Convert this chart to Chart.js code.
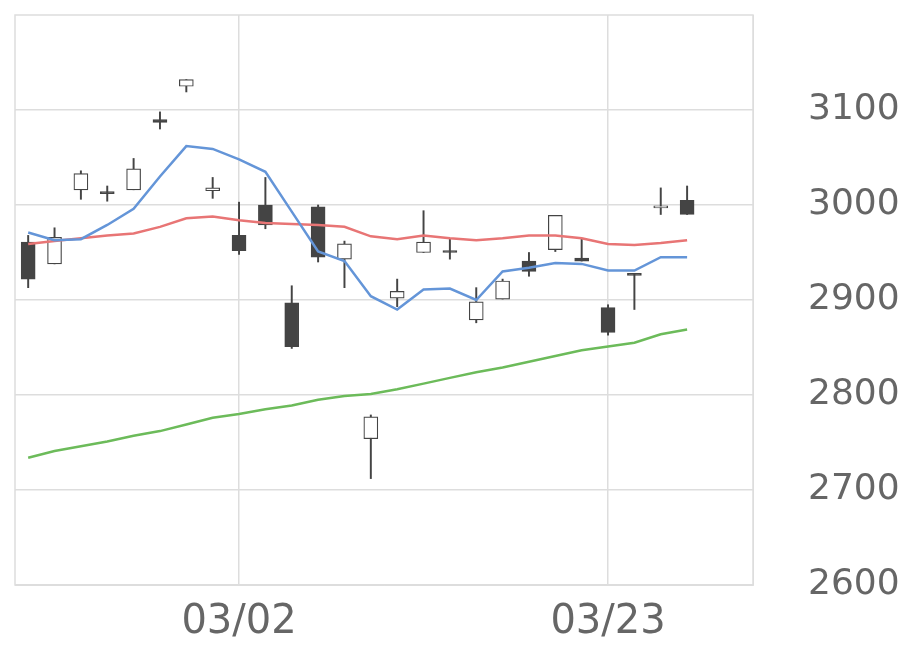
<!DOCTYPE html>
<html><head><meta charset="utf-8">
<script src="https://cdn.jsdelivr.net/npm/chart.js@4/dist/chart.umd.min.js"></script>
<style>body{margin:0;background:#fff}</style></head>
<body><canvas id="c" width="920" height="669"></canvas>
<script>
const dateLabels = ["","","","","","","","","03/02","","","","","","","","","","","","","","03/23","","","","",""];
const yTicks = [2600, 2700, 2800, 2900, 3000, 3100];
const opens  = [2961,2938,3016,3014,3016,3090,3125,3015,2968,3000,2897,2998,2943,2754,2902,2950,2952,2879,2901,2941,2953,2944,2892,2928,2997,3005];
const closes = [2922,2966,3033,3012,3038,3087,3132,3018,2952,2979,2851,2945,2959,2777,2909,2961,2950,2898,2920,2930,2989,2941,2866,2926,2999,2990];
const highs  = [2968,2976,3036,3020,3049,3098,3132,3029,3003,3029,2915,3000,2962,2779,2922,2994,2964,2913,2922,2950,2989,2964,2895,2928,3018,3020];
const lows   = [2913,2938,3006,3004,3016,3080,3119,3007,2948,2975,2849,2940,2913,2712,2893,2950,2943,2876,2901,2925,2951,2941,2863,2890,2990,2990];
const maShort = [2971,2963,2964,2979,2996,3030,3062,3059,3048,3035,2993,2951,2941,2904,2890,2911,2912,2900,2930,2934,2939,2938,2931,2931,2945,2945];
const maMid   = [2959,2962,2965,2968,2970,2977,2986,2988,2984,2981,2980,2979,2977,2967,2964,2968,2965,2963,2965,2968,2968,2965,2959,2958,2960,2963];
const maLong  = [2734,2741,2746,2751,2757,2762,2769,2776,2780,2785,2789,2795,2799,2801,2806,2812,2818,2824,2829,2835,2841,2847,2851,2855,2864,2869];

const dark = "#444";
const up = opens.map((o, i) => closes[i] >= o);
const line = (d, color) => ({type: "line", data: d, borderColor: color,
  borderWidth: 2.5, pointRadius: 0, fill: false, tension: 0});

const frame = {id: "frame", afterDraw(ch) {
  const a = ch.chartArea, c = ch.ctx;
  c.save(); c.strokeStyle = "#ddd"; c.lineWidth = 1.5;
  c.strokeRect(a.left, a.top, a.right - a.left, a.bottom - a.top); c.restore();
}};

new Chart(document.getElementById("c"), {
  data: {labels: dateLabels, datasets: [
    line(maShort, "#6495d8"), line(maMid, "#e87575"), line(maLong, "#6cbb5a"),
    {type: "bar", data: lows.map((l, i) => [l, highs[i]]), backgroundColor: dark,
     barThickness: 1.3, grouped: false, order: 5},
    {type: "bar", data: opens.map((o, i) => [o, closes[i]]),
     backgroundColor: up.map(u => u ? "#fff" : dark), borderColor: dark, borderWidth: 1.2,
     borderSkipped: false, barThickness: 14, grouped: false, order: 4}
  ]},
  options: {
    responsive: false, animation: false,
    layout: {padding: {left: 15, top: 15, right: 0, bottom: 8}},
    plugins: {legend: {display: false}, tooltip: {enabled: false}},
    scales: {
      x: {type: "category", offset: true,
        ticks: {autoSkip: false, color: "#666", font: {size: 40, family: "DejaVu Sans"}, maxRotation: 0, padding: 14},
        grid: {offset: false, color: c => c.tick && c.tick.label ? "#ddd" : "rgba(0,0,0,0)", lineWidth: 1.5, drawTicks: false},
        border: {color: "#ddd"}},
      y: {position: "right", min: 2600, max: 3200,
        afterBuildTicks: ax => { ax.ticks = yTicks.map(v => ({value: v})); },
        afterFit: ax => { ax.width = 167; ax.paddingTop = 0; },
        ticks: {callback: v => String(v), color: "#666", font: {size: 36, family: "DejaVu Sans"}, padding: 55},
        grid: {color: "#ddd", lineWidth: 1.5, drawTicks: false}, border: {color: "#ddd"}}
    }
  },
  plugins: [frame]
});
</script></body></html>
